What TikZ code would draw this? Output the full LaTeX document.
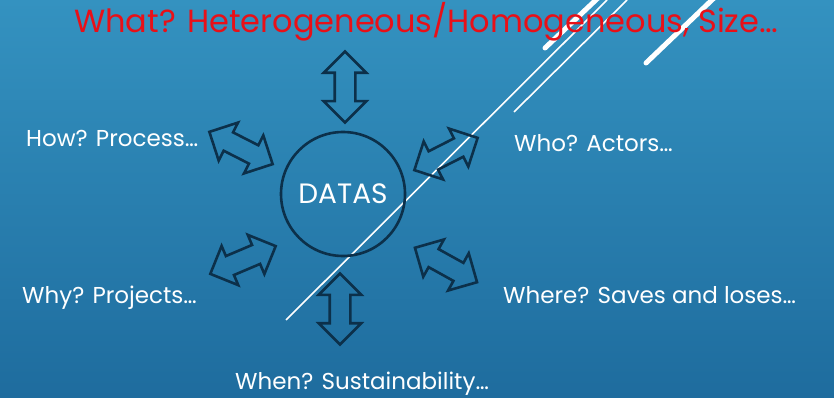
\documentclass[tikz,border=0pt]{standalone}
\usepackage{fontspec}
\setmainfont{Poppins}
\usetikzlibrary{shapes.arrows,positioning}
\definecolor{bgtop}{RGB}{52,146,192}
\definecolor{bgbot}{RGB}{30,108,158}
\definecolor{navy}{RGB}{12,48,74}
\definecolor{titlered}{RGB}{232,16,24}
\tikzset{
	%Define style for the double arrows
	dblarrow/.style={
		double arrow,
		draw=navy, line width=2.6pt,
		inner sep=9pt,
		minimum height=71pt,
		double arrow head extend=11pt},
	%Define style for the labels
	lbl/.style={
		text=white, inner sep=0pt, anchor=west,
		font=\fontsize{23}{25}\selectfont},
	%Define style for the white strokes
	stroke/.style={white, line width=1.6pt},
	bigstroke/.style={white, line width=5pt, line cap=round}
}

\begin{document}
\begin{tikzpicture}[x=1pt,y=-1pt]
	\useasboundingbox (0,0) rectangle (834,398);
	\shade[top color=bgtop, bottom color=bgbot] (0,0) rectangle (834,398);
	% strokes in the corner
	\coordinate (s1a) at (286,320); \coordinate (s1b) at (607,0);
	\coordinate (s2a) at (514,112); \coordinate (s2b) at (627,0);
	\coordinate (s3a) at (545,48);  \coordinate (s3b) at (598,-2);
	\coordinate (s4a) at (646,63);  \coordinate (s4b) at (714,-2);
	\draw[stroke] (s1a) -- (s1b);
	\draw[stroke] (s2a) -- (s2b);
	\draw[bigstroke] (s3a) -- (s3b);
	\draw[bigstroke] (s4a) -- (s4b);
	% centre
	\node[circle, draw=navy, line width=2.6pt, minimum size=124pt,
		text=white, font=\fontsize{28}{30}\selectfont] (datas) at (343,194) {DATAS};
	% arrows
	\node[dblarrow, rotate=90]  (aWhat)  at (345,87)  {};
	\node[dblarrow, rotate=90]  (aWhen)  at (340,309) {};
	\node[dblarrow, rotate=-27] (aHow)   at (241,148) {};
	\node[dblarrow, rotate=23]  (aWhy)   at (243,260) {};
	\node[dblarrow, rotate=27]  (aWho)   at (446,154) {};
	\node[dblarrow, rotate=-29] (aWhere) at (446,265) {};
	% labels
	\node[lbl, anchor=center, text=titlered, font=\fontsize{32}{34}\selectfont]
		(what) at (426,22) {What? Heterogeneous/Homogeneous, Size…};
	\node[lbl] (how)   at (26,138)  {How? Process…};
	\node[lbl] (why)   at (22,298)  {Why? Projects…};
	\node[lbl] (who)   at (514,143) {Who? Actors…};
	\node[lbl] (where) at (503,295) {Where? Saves and loses…};
	\node[lbl] (when)  at (235,384) {When? Sustainability…};
\end{tikzpicture}
\end{document}
